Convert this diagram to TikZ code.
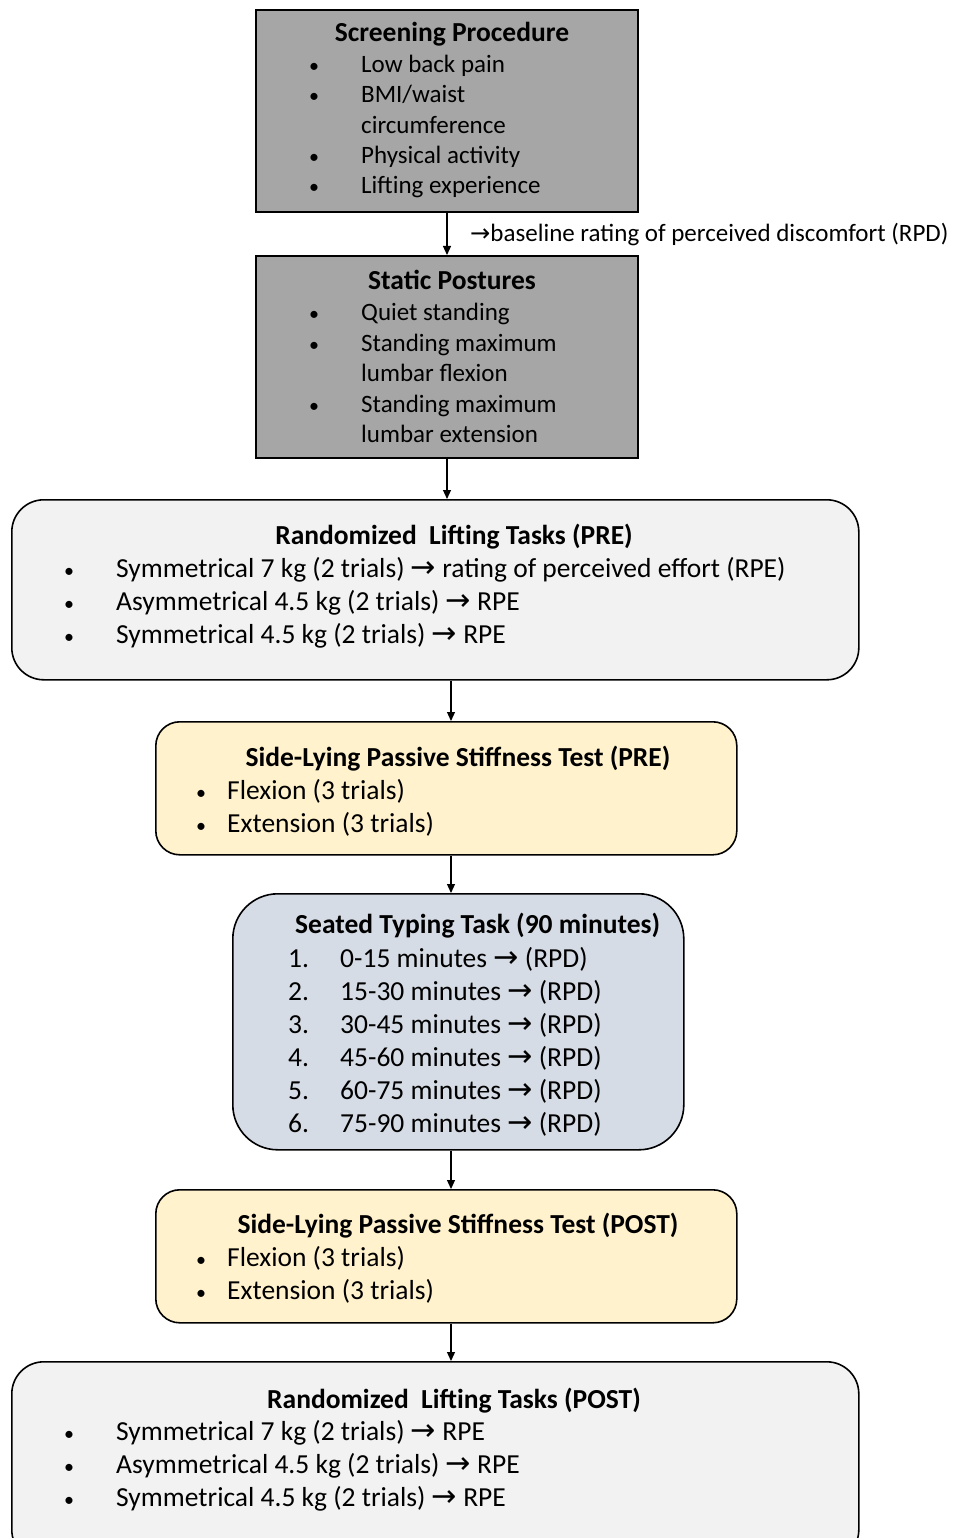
\documentclass[tikz,border=0pt]{standalone}
\usepackage{fontspec}
\setmainfont{Carlito}
\newfontfamily\arrfont{DejaVu Sans}[Scale=1.1]
\usetikzlibrary{arrows.meta}
\newcommand{\ra}{{\arrfont →}}
\definecolor{boxgray}{HTML}{A6A6A6}
\definecolor{boxlight}{HTML}{F2F2F2}
\definecolor{boxyellow}{HTML}{FFF2CC}
\definecolor{boxblue}{HTML}{D6DCE5}
\tikzset{
  box/.style={draw=black, line width=1.6pt, inner sep=0pt, anchor=north west},
  txt/.style={inner sep=0pt, anchor=base west, font=\fontsize{27.5}{32}\selectfont},
  stxt/.style={inner sep=0pt, anchor=base west, font=\fontsize{25}{30}\selectfont},
  bul/.style={inner sep=0pt, anchor=base, font=\fontsize{20}{24}\selectfont},
  ttl/.style={inner sep=0pt, anchor=base, font=\fontsize{27.5}{32}\selectfont\bfseries},
  lbl/.style={inner sep=0pt, anchor=base west, font=\fontsize{25}{30}\selectfont},
  conn/.style={draw=black, line width=1.2pt, -{Triangle[length=9pt,width=8pt]}},
}
\begin{document}
\begin{tikzpicture}[x=1pt,y=-1pt]
\useasboundingbox (0,0) rectangle (961,1538);
% boxes
\node[box, fill=boxgray, minimum width=382pt, minimum height=202pt] (b1) at (255,9) {};
\node[box, fill=boxgray, minimum width=382pt, minimum height=202pt] (b2) at (255,255) {};
\node[box, fill=boxlight, rounded corners=32pt, minimum width=847pt, minimum height=180pt] (b3) at (11,499) {};
\node[box, fill=boxyellow, rounded corners=24pt, minimum width=581pt, minimum height=133pt] (b4) at (155,721) {};
\node[box, fill=boxblue, rounded corners=45pt, minimum width=451pt, minimum height=256pt] (b5) at (232,893) {};
\node[box, fill=boxyellow, rounded corners=24pt, minimum width=581pt, minimum height=133pt] (b6) at (155,1189) {};
\node[box, fill=boxlight, rounded corners=32pt, minimum width=847pt, minimum height=200pt] (b7) at (11,1361) {};

% connectors
\coordinate (ax1) at (447,0);
\coordinate (ax2) at (451,0);
\draw[conn] (b1.south -| ax1) -- (b2.north -| ax1);
\draw[conn] (b2.south -| ax1) -- (b3.north -| ax1);
\draw[conn] (b3.south -| ax2) -- (b4.north -| ax2);
\draw[conn] (b4.south -| ax2) -- (b5.north -| ax2);
\draw[conn] (b5.south -| ax2) -- (b6.north -| ax2);
\draw[conn] (b6.south -| ax2) -- (b7.north -| ax2);
\node[lbl] (l1) at (470,241) {{\fontsize{22}{26}\selectfont\ra}baseline rating of perceived discomfort (RPD)};

% screening
\node[ttl] (t1) at (452,42) {Screening Procedure};
\node[bul] (s1b1) at (314,73) {•}; \node[stxt] (s1t1) at (361,73) {Low back pain};
\node[bul] (s1b2) at (314,103) {•}; \node[stxt] (s1t2) at (361,103) {BMI/waist};
\node[stxt] (s1t3) at (361,134) {circumference};
\node[bul] (s1b4) at (314,164) {•}; \node[stxt] (s1t4) at (361,164) {Physical activity};
\node[bul] (s1b5) at (314,194) {•}; \node[stxt] (s1t5) at (361,194) {Lifting experience};

% static
\node[ttl] (t2) at (452,289) {Static Postures};
\node[bul] (s2b1) at (314,320) {•}; \node[stxt] (s2t1) at (361,320) {Quiet standing};
\node[bul] (s2b2) at (314,351) {•}; \node[stxt] (s2t2) at (361,351) {Standing maximum};
\node[stxt] (s2t3) at (361,381) {lumbar flexion};
\node[bul] (s2b4) at (314,412) {•}; \node[stxt] (s2t4) at (361,412) {Standing maximum};
\node[stxt] (s2t5) at (361,442) {lumbar extension};

% lifting pre
\node[ttl] (t3) at (454,544) {Randomized\ \ Lifting Tasks (PRE)};
\node[bul] (s3b1) at (69,577) {•}; \node[txt] (s3t1) at (116,577) {Symmetrical 7 kg (2 trials) \ra\ rating of perceived effort (RPE)};
\node[bul] (s3b2) at (69,610) {•}; \node[txt] (s3t2) at (116,610) {Asymmetrical 4.5 kg (2 trials) \ra\ RPE};
\node[bul] (s3b3) at (69,643) {•}; \node[txt] (s3t3) at (116,643) {Symmetrical 4.5 kg (2 trials) \ra\ RPE};

% stiffness pre
\node[ttl] (t4) at (458,766) {Side-Lying Passive Stiffness Test (PRE)};
\node[bul] (s4b1) at (201,799) {•}; \node[txt] (s4t1) at (227,799) {Flexion (3 trials)};
\node[bul] (s4b2) at (201,832) {•}; \node[txt] (s4t2) at (227,832) {Extension (3 trials)};

% seated
\node[ttl, anchor=base west] (t5) at (295,933) {Seated Typing\ Task (90 minutes)};
\foreach \y/\t [count=\i] in {967/0-15 minutes, 1000/15-30 minutes, 1033/30-45 minutes, 1066/45-60 minutes, 1099/60-75 minutes, 1132/75-90 minutes}
  {\node[txt] (s5n\i) at (288,\y) {\i.}; \node[txt] (s5t\i) at (340,\y) {\t\ \ra\ (RPD)};}

% stiffness post
\node[ttl] (t6) at (458,1233) {Side-Lying Passive Stiffness Test (POST)};
\node[bul] (s6b1) at (201,1266) {•}; \node[txt] (s6t1) at (227,1266) {Flexion (3 trials)};
\node[bul] (s6b2) at (201,1299) {•}; \node[txt] (s6t2) at (227,1299) {Extension (3 trials)};

% lifting post
\node[ttl] (t7) at (454,1408) {Randomized\ \ Lifting Tasks (POST)};
\node[bul] (s7b1) at (69,1440) {•}; \node[txt] (s7t1) at (116,1440) {Symmetrical 7 kg (2 trials) \ra\ RPE};
\node[bul] (s7b2) at (69,1473) {•}; \node[txt] (s7t2) at (116,1473) {Asymmetrical 4.5 kg (2 trials) \ra\ RPE};
\node[bul] (s7b3) at (69,1506) {•}; \node[txt] (s7t3) at (116,1506) {Symmetrical 4.5 kg (2 trials) \ra\ RPE};
\end{tikzpicture}
\end{document}
